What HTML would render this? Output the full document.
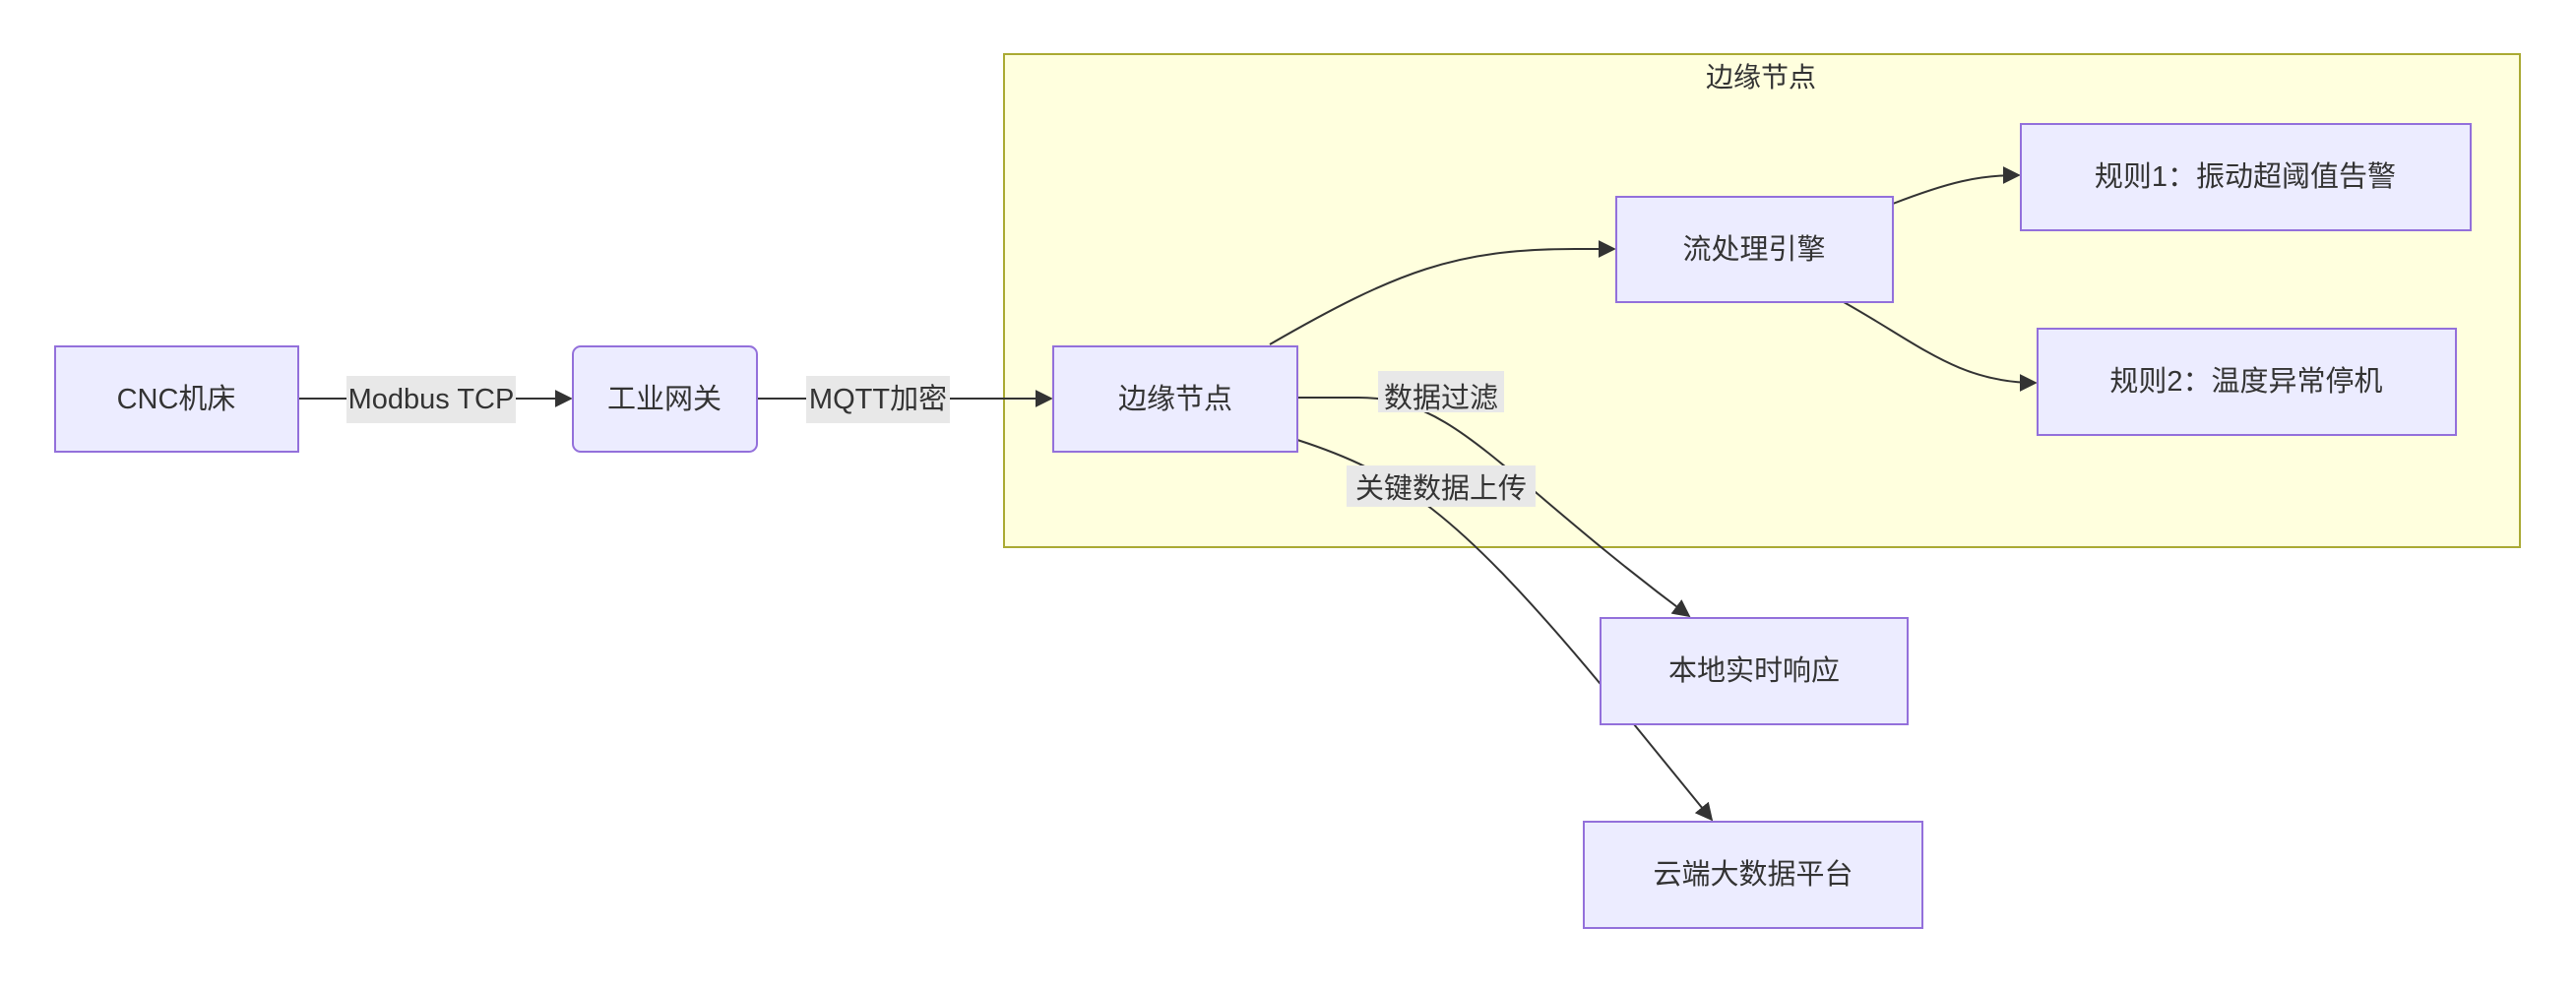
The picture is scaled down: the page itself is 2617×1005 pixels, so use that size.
<!DOCTYPE html>
<html><head><meta charset="utf-8"><style>
body{margin:0;background:#fff;}
svg text{font-family:"Liberation Sans","Noto Sans CJK SC",sans-serif;fill:#333;}
</style></head><body>
<svg width="2617" height="1000" viewBox="0 0 2617 1000" xmlns="http://www.w3.org/2000/svg">
<defs><marker id="a" viewBox="0 0 10 10" refX="9" refY="5" markerWidth="9" markerHeight="9" markerUnits="userSpaceOnUse" orient="auto"><path d="M0,0L10,5L0,10z" fill="#333"/></marker>
<marker id="b" viewBox="0 0 10 10" refX="9" refY="5" markerWidth="18" markerHeight="18" markerUnits="userSpaceOnUse" orient="auto"><path d="M0,0L10,5L0,10z" fill="#333"/></marker></defs>
<rect x="1020" y="55" width="1540" height="501" fill="#ffffde" stroke="#aaaa33" stroke-width="2"/>
<text x="1789" y="88" font-size="28" text-anchor="middle">边缘节点</text>
<g fill="none" stroke="#333" stroke-width="2">
<path d="M302,405H580" marker-end="url(#b)"/>
<path d="M769,405H1068" marker-end="url(#b)"/>
<path d="M1290,350C1420,275 1480,253 1600,253H1640" marker-end="url(#b)"/>
<path d="M1923,207C1980,185 2010,178 2051,178" marker-end="url(#b)"/>
<path d="M1873,307C1950,350 1990,389 2068,389" marker-end="url(#b)"/>
<path d="M1318,404H1380C1480,404 1520,480 1716,626" marker-end="url(#b)"/>
<path d="M1318,447C1420,480 1480,520 1625,694L1660,736L1739,833" marker-end="url(#b)"/>
</g>
<g stroke="#9370db" stroke-width="2" fill="#ececff">
<rect x="56" y="352" width="247" height="107"/>
<rect x="582" y="352" width="187" height="107" rx="8"/>
<rect x="1070" y="352" width="248" height="107"/>
<rect x="1642" y="200" width="281" height="107"/>
<rect x="2053" y="126" width="457" height="108"/>
<rect x="2070" y="334" width="425" height="108"/>
<rect x="1626" y="628" width="312" height="108"/>
<rect x="1609" y="835" width="344" height="108"/>
</g>
<g fill="#e8e8e8">
<rect x="352" y="382" width="172" height="48"/>
<rect x="819" y="382" width="146" height="48"/>
<rect x="1400" y="377" width="128" height="42"/>
<rect x="1368" y="473" width="192" height="42"/>
</g>
<g font-size="29" text-anchor="middle">
<text x="179" y="415">CNC机床</text>
<text x="438" y="415">Modbus TCP</text>
<text x="675" y="415">工业网关</text>
<text x="892" y="415">MQTT加密</text>
<text x="1194" y="415">边缘节点</text>
<text x="1464" y="414">数据过滤</text>
<text x="1464" y="506">关键数据上传</text>
<text x="1782" y="263">流处理引擎</text>
<text x="2281" y="189">规则1：振动超阈值告警</text>
<text x="2282" y="397">规则2：温度异常停机</text>
<text x="1782" y="691">本地实时响应</text>
<text x="1781" y="898">云端大数据平台</text>
</g>
</svg>
</body></html>
